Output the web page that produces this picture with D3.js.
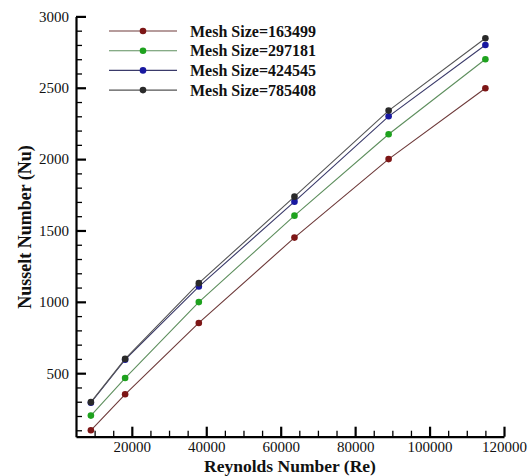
<!DOCTYPE html>
<html><head><meta charset="utf-8">
<script src="https://cdn.jsdelivr.net/npm/d3@7"></script>
<style>body{margin:0;background:#fff}svg{display:block}</style>
</head><body>
<svg id="c" width="532" height="476"></svg>
<script>
const reynolds = [9000, 18200, 38000, 63700, 89000, 115000];
const mesh163499 = [100, 352, 852, 1450, 2000, 2497];
const mesh297181 = [203, 466, 998, 1604, 2174, 2700];
const mesh424545 = [293, 595, 1107, 1702, 2300, 2800];
const mesh785408 = [297, 600, 1131, 1737, 2340, 2847];
const seriesNames = ["Mesh Size=163499", "Mesh Size=297181", "Mesh Size=424545", "Mesh Size=785408"];
const xMajorTicks = [20000, 40000, 60000, 80000, 100000, 120000];
const yMajorTicks = [500, 1000, 1500, 2000, 2500, 3000];

const seriesValues = [mesh163499, mesh297181, mesh424545, mesh785408];
const markerColors = ["#7d1616", "#1ea21e", "#1818a0", "#2a2a2a"];
const lineColors = ["#6e3a3a", "#5e8f5e", "#3a3a6a", "#555555"];

const svg = d3.select("#c");
const x = d3.scaleLinear().domain([5000, 120000]).range([76, 504]);
const y = d3.scaleLinear().domain([55, 3000]).range([436.7, 16.4]);
const font = "'Liberation Serif','Times New Roman',serif";

// minor ticks
const xMinor = d3.range(10000, 120001, 5000).filter(v => v % 20000 !== 0);
const yMinor = d3.range(100, 3001, 100).filter(v => v % 500 !== 0);

const xMinorAxis = svg.append("g").attr("transform", `translate(0,${y.range()[0]})`)
  .call(d3.axisBottom(x).tickValues(xMinor).tickSize(-6).tickFormat(""));
const yMinorAxis = svg.append("g").attr("transform", `translate(${x.range()[0]},0)`)
  .call(d3.axisLeft(y).tickValues(yMinor).tickSize(-6).tickFormat(""));
[xMinorAxis, yMinorAxis].forEach(g => {
  g.select(".domain").remove();
  g.selectAll("line").attr("stroke", "#000").attr("stroke-width", 1.3);
});

const xAxis = svg.append("g").attr("transform", `translate(0,${y.range()[0]})`)
  .call(d3.axisBottom(x).tickValues(xMajorTicks).tickSize(-10).tickSizeOuter(0).tickPadding(5).tickFormat(d3.format("d")));
const yAxis = svg.append("g").attr("transform", `translate(${x.range()[0]},0)`)
  .call(d3.axisLeft(y).tickValues(yMajorTicks).tickSize(-10).tickSizeOuter(0).tickPadding(7).tickFormat(d3.format("d")));
[xAxis, yAxis].forEach(g => {
  g.select(".domain").attr("stroke", "#000").attr("stroke-width", 2.2);
  g.selectAll(".tick line").attr("stroke", "#000").attr("stroke-width", 2.2);
  g.selectAll(".tick text").attr("fill", "#111").style("font-family", font).style("font-size", "15px");
});

// series
const line = d3.line().x((d, i) => x(reynolds[i])).y(d => y(d));
seriesValues.forEach((vals, si) => {
  svg.append("path").datum(vals).attr("d", line)
    .attr("fill", "none").attr("stroke", lineColors[si]).attr("stroke-width", 1.1);
  svg.append("g").selectAll("circle").data(vals).join("circle")
    .attr("cx", (d, i) => x(reynolds[i])).attr("cy", d => y(d)).attr("r", 3.3)
    .attr("fill", markerColors[si]);
});

// legend
const legend = svg.append("g");
seriesNames.forEach((name, i) => {
  const ly = 31 + i * 19.7;
  legend.append("line").attr("x1", 109).attr("x2", 177).attr("y1", ly).attr("y2", ly)
    .attr("stroke", lineColors[i]).attr("stroke-width", 1.1);
  legend.append("circle").attr("cx", 143).attr("cy", ly).attr("r", 3.3).attr("fill", markerColors[i]);
  legend.append("text").attr("x", 190).attr("y", ly + 5.5).text(name)
    .style("font-family", font).style("font-size", "16px").style("font-weight", "bold").attr("fill", "#111");
});

// axis titles
svg.append("text").attr("x", 290).attr("y", 471.5).attr("text-anchor", "middle")
  .text("Reynolds Number (Re)").style("font-family", font).style("font-size", "17.5px").style("font-weight", "bold").attr("fill", "#111");
svg.append("text").attr("transform", "translate(31,227) rotate(-90)").attr("text-anchor", "middle")
  .text("Nusselt Number (Nu)").style("font-family", font).style("font-size", "18px").style("font-weight", "bold").attr("fill", "#111");
</script>
</body></html>
